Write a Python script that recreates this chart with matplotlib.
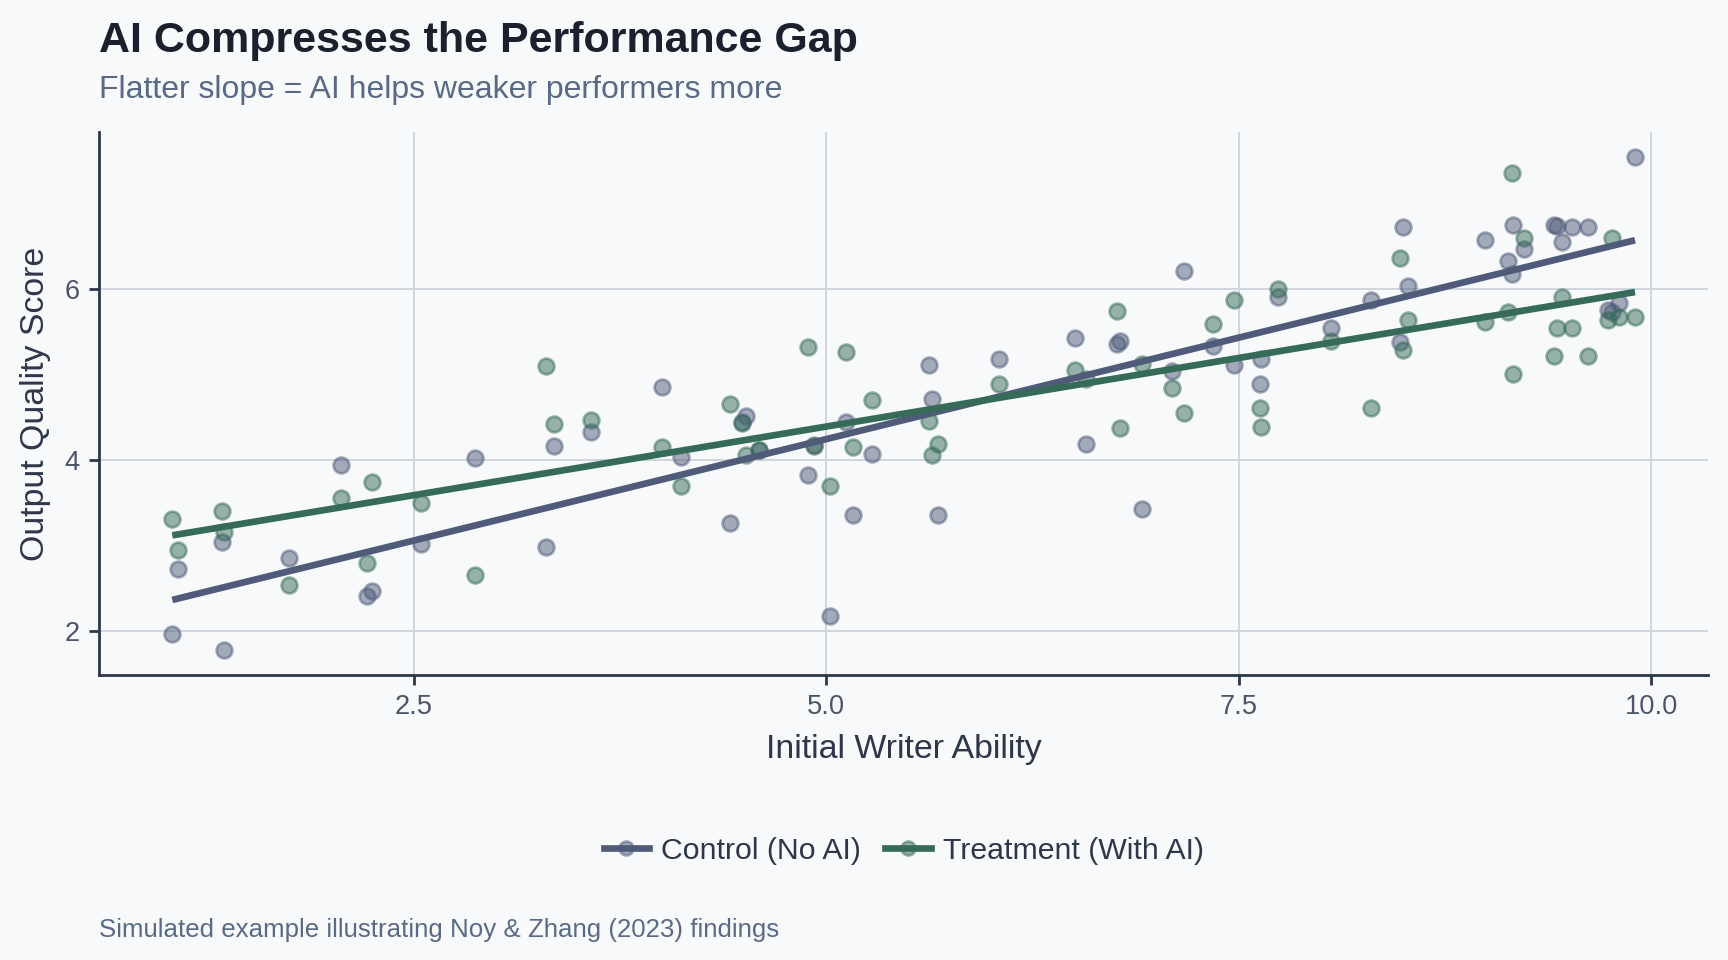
import numpy as np
import matplotlib
matplotlib.use("Agg")
import matplotlib.pyplot as plt
from matplotlib.lines import Line2D

# writer ability (shared by both groups) and output scores
ability = [1.035, 1.068, 1.338, 1.35, 1.742, 2.057, 2.213, 2.248, 2.543, 2.869,
           3.301, 3.35, 3.576, 4.002, 4.121, 4.416, 4.49, 4.514, 4.59, 4.887,
           4.924, 5.025, 5.121, 5.162, 5.277, 5.62, 5.64, 5.674, 6.045, 6.506,
           6.572, 6.762, 6.777, 6.916, 7.096, 7.168, 7.344, 7.473, 7.627, 7.637,
           7.738, 8.061, 8.299, 8.475, 8.496, 8.525, 8.99, 9.135, 9.154, 9.16,
           9.232, 9.41, 9.43, 9.459, 9.518, 9.619, 9.738, 9.762, 9.803, 9.902]

control = [1.96, 2.72, 3.04, 1.77, 2.85, 3.94, 2.40, 2.46, 3.01, 4.02,
           2.98, 4.16, 4.33, 4.86, 4.04, 3.26, 4.44, 4.51, 4.12, 3.82,
           4.16, 2.17, 4.45, 3.36, 4.07, 5.11, 4.72, 3.35, 5.18, 5.43,
           4.19, 5.36, 5.40, 3.42, 5.04, 6.21, 5.34, 5.11, 4.89, 5.18,
           5.91, 5.55, 5.87, 5.38, 6.73, 6.04, 6.58, 6.33, 6.18, 6.76,
           6.47, 6.76, 6.74, 6.56, 6.73, 6.73, 5.76, 5.73, 5.84, 7.55]

treatment = [3.31, 2.95, 3.40, 3.16, 2.53, 3.55, 2.79, 3.74, 3.50, 2.65,
             5.10, 4.42, 4.47, 4.15, 3.70, 4.66, 4.43, 4.06, 4.12, 5.33,
             4.18, 3.69, 5.26, 4.15, 4.70, 4.46, 4.06, 4.19, 4.89, 5.06,
             4.95, 5.75, 4.37, 5.12, 4.84, 4.55, 5.59, 5.87, 4.61, 4.39,
             6.00, 5.40, 4.61, 6.37, 5.29, 5.64, 5.62, 5.73, 7.36, 5.01,
             6.60, 5.22, 5.55, 5.91, 5.55, 5.22, 5.64, 6.60, 5.68, 5.68]

labels = ["Control (No AI)", "Treatment (With AI)"]

bg = "#f7f9fb"
c_ctrl = "#4f5b78"
c_trt = "#356b58"

plt.rcParams['font.family'] = ['Liberation Sans', 'DejaVu Sans']

fig = plt.figure(figsize=(8.64, 4.8), dpi=200, facecolor=bg)
ax = fig.add_axes([0.0574, 0.297, 0.9311, 0.565], facecolor=bg)

x = np.array(ability)
for ys, col in [(control, c_ctrl), (treatment, c_trt)]:
    ys = np.array(ys)
    ax.scatter(x, ys, s=32, color=col, alpha=0.5, linewidths=1.0,
               edgecolors=col, zorder=2)

for ys, col in [(control, c_ctrl), (treatment, c_trt)]:
    m, b = np.polyfit(x, np.array(ys), 1)
    xx = np.array([x.min(), x.max()])
    ax.plot(xx, m * xx + b, color=col, linewidth=2.4, zorder=3,
            solid_capstyle='butt')

ax.set_xticks([2.5, 5.0, 7.5, 10.0])
ax.set_yticks([2, 4, 6])
ax.grid(True, color="#d0d5dd", linewidth=0.7)
ax.set_axisbelow(True)
for s in ["top", "right"]:
    ax.spines[s].set_visible(False)
for s in ["left", "bottom"]:
    ax.spines[s].set_color("#2d3748")
    ax.spines[s].set_linewidth(1.0)
ax.tick_params(colors="#2d3748", labelcolor="#4a5568", labelsize=9.8,
               length=3.5, width=1.0)

ax.set_xlabel("Initial Writer Ability", fontsize=12.2, color="#2d3748", labelpad=5)
ax.set_ylabel("Output Quality Score", fontsize=12.2, color="#2d3748", labelpad=5)

handles = [Line2D([], [], color=c_ctrl, linewidth=2.4, marker='o', markersize=5,
                  markerfacecolor=(0.31, 0.36, 0.47, 0.5), markeredgecolor=(0.31, 0.36, 0.47, 0.5)),
           Line2D([], [], color=c_trt, linewidth=2.4, marker='o', markersize=5,
                  markerfacecolor=(0.21, 0.42, 0.35, 0.5), markeredgecolor=(0.21, 0.42, 0.35, 0.5))]
fig.legend(handles, labels, loc='center', bbox_to_anchor=(0.523, 0.114), ncol=2,
           frameon=False, fontsize=10.9, labelcolor="#2d3748", handlelength=1.5,
           columnspacing=0.8, handletextpad=0.4)

fig.text(0.0574, 0.946, "AI Compresses the Performance Gap", fontsize=15.5,
         fontweight='bold', color="#1a202c", va='baseline')
fig.text(0.0574, 0.898, "Flatter slope = AI helps weaker performers more",
         fontsize=11.5, color="#5a6a85", va='baseline')
fig.text(0.0574, 0.024, "Simulated example illustrating Noy & Zhang (2023) findings",
         fontsize=9.3, color="#5a6a85", va='baseline')

fig.savefig("out.png", dpi=200, facecolor=bg)
